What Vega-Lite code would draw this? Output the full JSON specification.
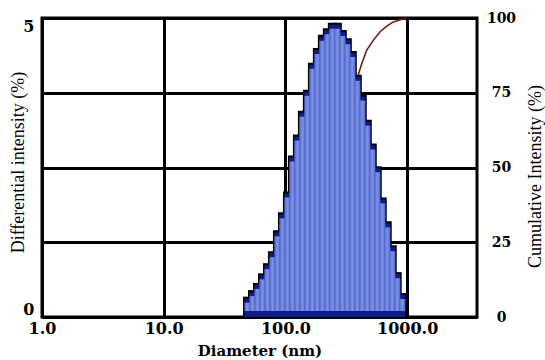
{
  "$schema": "https://vega.github.io/schema/vega-lite/v6.json",
  "width": 435,
  "height": 299,
  "autosize": {"type": "none"},
  "padding": {"left": 42, "top": 18, "right": 68, "bottom": 43},
  "background": "white",
  "config": {
    "view": {"stroke": "black", "strokeWidth": 3},
    "font": "Liberation Serif",
    "axis": {
      "labelFont": "DejaVu Serif",
      "titleFont": "Liberation Serif",
      "labelColor": "black",
      "titleColor": "black",
      "domain": false,
      "ticks": false,
      "gridColor": "black",
      "gridOpacity": 1,
      "gridWidth": 3
    }
  },
  "datasets": {
    "bins": [
      {"d0": 46.56, "d1": 51.17, "pct": 0.34},
      {"d0": 51.17, "d1": 56.23, "pct": 0.45},
      {"d0": 56.23, "d1": 61.80, "pct": 0.57},
      {"d0": 61.80, "d1": 67.92, "pct": 0.73},
      {"d0": 67.92, "d1": 74.64, "pct": 0.90},
      {"d0": 74.64, "d1": 82.04, "pct": 1.10},
      {"d0": 82.04, "d1": 90.16, "pct": 1.45},
      {"d0": 90.16, "d1": 99.08, "pct": 1.75},
      {"d0": 99.08, "d1": 108.9, "pct": 2.10},
      {"d0": 108.9, "d1": 119.7, "pct": 2.70},
      {"d0": 119.7, "d1": 131.5, "pct": 3.05},
      {"d0": 131.5, "d1": 144.5, "pct": 3.45},
      {"d0": 144.5, "d1": 158.9, "pct": 3.80},
      {"d0": 158.9, "d1": 174.6, "pct": 4.25},
      {"d0": 174.6, "d1": 191.9, "pct": 4.50},
      {"d0": 191.9, "d1": 210.9, "pct": 4.72},
      {"d0": 210.9, "d1": 231.7, "pct": 4.83},
      {"d0": 231.7, "d1": 254.7, "pct": 4.92},
      {"d0": 254.7, "d1": 279.9, "pct": 4.92},
      {"d0": 279.9, "d1": 307.6, "pct": 4.80},
      {"d0": 307.6, "d1": 338.1, "pct": 4.66},
      {"d0": 338.1, "d1": 371.5, "pct": 4.45},
      {"d0": 371.5, "d1": 408.3, "pct": 4.05},
      {"d0": 408.3, "d1": 448.7, "pct": 3.72},
      {"d0": 448.7, "d1": 493.2, "pct": 3.30},
      {"d0": 493.2, "d1": 542.0, "pct": 2.90},
      {"d0": 542.0, "d1": 595.7, "pct": 2.52},
      {"d0": 595.7, "d1": 654.6, "pct": 2.00},
      {"d0": 654.6, "d1": 719.4, "pct": 1.60},
      {"d0": 719.4, "d1": 790.7, "pct": 1.20},
      {"d0": 790.7, "d1": 868.9, "pct": 0.75},
      {"d0": 868.9, "d1": 955.0, "pct": 0.40}
    ],
    "cumulative": [
      {"d": 46.6, "cum": 0},
      {"d": 60, "cum": 1.5},
      {"d": 80, "cum": 5},
      {"d": 100, "cum": 11},
      {"d": 130, "cum": 22},
      {"d": 160, "cum": 35},
      {"d": 200, "cum": 48},
      {"d": 250, "cum": 60},
      {"d": 300, "cum": 69},
      {"d": 350, "cum": 76},
      {"d": 397, "cum": 81},
      {"d": 424, "cum": 84.8},
      {"d": 466, "cum": 89.3},
      {"d": 528, "cum": 92.6},
      {"d": 599, "cum": 95.4},
      {"d": 680, "cum": 97.3},
      {"d": 771, "cum": 98.7},
      {"d": 903, "cum": 99.6},
      {"d": 998, "cum": 100}
    ]
  },
  "layer": [
    {
      "data": {"name": "cumulative"},
      "mark": {"type": "line", "color": "#6e1a1a", "strokeWidth": 1.6},
      "encoding": {
        "x": {
          "field": "d",
          "type": "quantitative",
          "scale": {"type": "log", "domain": [1, 3750]},
          "axis": {
            "values": [1, 10, 100, 1000],
            "format": ".1f",
            "title": "Diameter (nm)",
            "grid": true,
            "labelFlush": false,
            "labelFontWeight": "bold",
            "labelFontSize": 16,
            "labelPadding": 3,
            "titleFont": "DejaVu Serif",
            "titleFontWeight": "bold",
            "titleFontSize": 15,
            "titleY": 33,
            "titleBaseline": "middle"
          }
        },
        "y": {
          "field": "cum",
          "type": "quantitative",
          "scale": {"domain": [0, 100]},
          "axis": {
            "orient": "right",
            "values": [0, 25, 50, 75, 100],
            "title": "Cumulative Intensity (%)",
            "grid": true,
            "labelFontWeight": "bold",
            "labelFontSize": 14,
            "labelAlign": "center",
            "labelPadding": 24,
            "titleFontSize": 18,
            "titleFontWeight": "normal",
            "titleAngle": 270,
            "titleX": 58,
            "titleY": 158,
            "titleAlign": "center",
            "titleBaseline": "middle"
          }
        }
      }
    },
    {
      "data": {"name": "bins"},
      "encoding": {
        "x": {"field": "d0", "type": "quantitative", "scale": {"type": "log", "domain": [1, 3750]}},
        "x2": {"field": "d1"},
        "y": {
          "field": "pct",
          "type": "quantitative",
          "scale": {"domain": [0, 5]},
          "axis": {
            "orient": "left",
            "values": [0, 5],
            "grid": false,
            "title": "Differential intensity (%)",
            "labelFontWeight": "bold",
            "labelFontSize": 16,
            "labelPadding": 8,
            "labelFlush": true,
            "titleFontSize": 18,
            "titleFontWeight": "normal",
            "titleAngle": 270,
            "titleX": -24,
            "titleY": 144,
            "titleAlign": "center",
            "titleBaseline": "middle"
          }
        },
        "y2": {"datum": 0}
      },
      "layer": [
        {"mark": {"type": "rect", "color": "black", "xOffset": -2, "x2Offset": 2}},
        {"mark": {"type": "rect", "color": "#101c88", "yOffset": 2, "xOffset": -0.6, "x2Offset": 0.6}},
        {
          "mark": {
            "type": "rect",
            "yOffset": 6,
            "y2Offset": -6,
            "xOffset": -0.6,
            "x2Offset": 0.6,
            "color": {
              "gradient": "linear",
              "x1": 0, "x2": 1, "y1": 0, "y2": 0,
              "stops": [
                {"offset": 0, "color": "#5166cc"},
                {"offset": 0.5, "color": "#7e93e4"},
                {"offset": 1, "color": "#5166cc"}
              ]
            }
          }
        }
      ]
    }
  ],
  "resolve": {"scale": {"y": "independent"}}
}
